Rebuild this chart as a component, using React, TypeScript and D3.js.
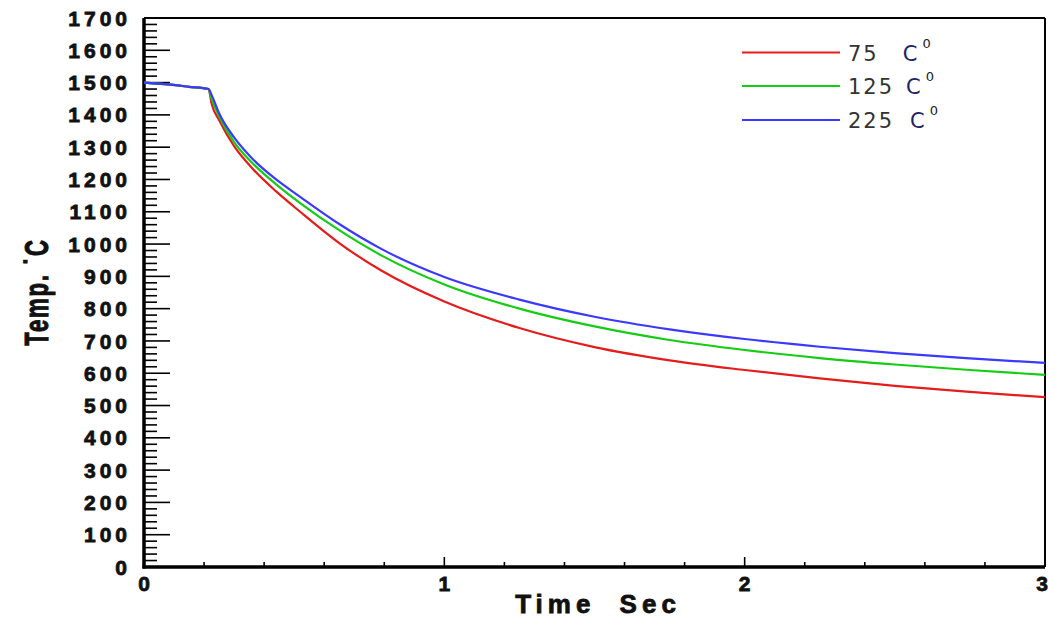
import React, { useEffect, useRef } from "react";
import * as d3 from "d3";

// time (sec), shared by the three series
const times = [0, 0.07, 0.15, 0.215, 0.225, 0.25, 0.3, 0.36, 0.44, 0.52, 0.65, 0.79, 1.0, 1.25, 1.5, 1.75, 2.0, 2.25, 2.5, 2.75, 3.0];
const temp75 = [1500, 1495, 1487, 1480, 1435, 1384, 1303, 1235, 1163, 1100, 1003, 918, 822, 740, 681, 640, 610, 584, 561, 542, 526];
const temp125 = [1500, 1495, 1487, 1480, 1450, 1396, 1316, 1252, 1185, 1127, 1043, 965, 875, 800, 745, 703, 672, 647, 627, 610, 595];
const temp225 = [1500, 1495, 1487, 1480, 1462, 1405, 1330, 1265, 1200, 1146, 1062, 985, 898, 828, 775, 736, 706, 682, 662, 646, 632];

const seriesNames = ["75", "125", "225"];
const seriesColors = ["#e41c1c", "#14cc14", "#3a3aff"];
const yTicks = d3.range(0, 1701, 100);
const xTicks = [0, 1, 2, 3];

export default function App() {
  const ref = useRef<SVGSVGElement>(null);

  useEffect(() => {
    const svg = d3.select(ref.current);
    svg.selectAll("*").remove();

    const x = d3.scaleLinear().domain([0, 3]).range([144, 1045]);
    const y = d3.scaleLinear().domain([0, 1700]).range([567, 18]);

    const g = svg.append("g");
    const heavy = (sel: any, size: number, spacing: number) =>
      sel.style("font-family", "'Liberation Sans', Arial, sans-serif")
        .style("font-weight", "bold").style("font-size", `${size}px`).style("letter-spacing", `${spacing}px`)
        .attr("fill", "#111").attr("stroke", "#111").attr("stroke-width", 0.8);

    // frame
    g.append("line").attr("x1", x(0)).attr("x2", x(3)).attr("y1", y(1700)).attr("y2", y(1700)).attr("stroke", "#000").attr("stroke-width", 2);
    g.append("line").attr("x1", x(3)).attr("x2", x(3)).attr("y1", y(1700)).attr("y2", y(0)).attr("stroke", "#000").attr("stroke-width", 2);

    // y ticks (inside)
    const yMinor = d3.range(0, 1701, 20);
    g.selectAll(".ymin").data(yMinor).enter().append("line")
      .attr("x1", x(0)).attr("x2", d => x(0) + (d % 100 === 0 ? 26 : 13))
      .attr("y1", d => y(d)).attr("y2", d => y(d))
      .attr("stroke", "#000").attr("stroke-width", 1.6);

    // x ticks (inside)
    const xMinor = d3.range(0, 3.001, 0.2);
    g.selectAll(".xmin").data(xMinor).enter().append("line")
      .attr("x1", d => x(d)).attr("x2", d => x(d))
      .attr("y1", y(0)).attr("y2", d => y(0) - (Math.abs(d - Math.round(d)) < 1e-6 ? 10 : 5))
      .attr("stroke", "#000").attr("stroke-width", 1.6);

    // axes lines
    g.append("line").attr("x1", x(0)).attr("x2", x(0)).attr("y1", y(1700)).attr("y2", y(0) + 1.5).attr("stroke", "#000").attr("stroke-width", 3.5);
    g.append("line").attr("x1", x(0) - 1.5).attr("x2", x(3)).attr("y1", y(0)).attr("y2", y(0)).attr("stroke", "#000").attr("stroke-width", 3.5);

    // tick labels
    heavy(g.selectAll(".ylab").data(yTicks).enter().append("text")
      .attr("x", 131).attr("y", d => y(d)).attr("dy", "0.36em")
      .attr("text-anchor", "end"), 21, 4)
      .text((d: number) => String(d));

    heavy(g.selectAll(".xlab").data(xTicks).enter().append("text")
      .attr("x", d => Math.min(x(d), 1042)).attr("y", 591)
      .attr("text-anchor", "middle"), 21, 0)
      .text((d: number) => String(d));

    // axis titles
    heavy(g.append("text")
      .attr("x", 598).attr("y", 613)
      .attr("text-anchor", "middle"), 26, 5)
      .style("word-spacing", "12px")
      .text("Time Sec");

    heavy(g.append("text")
      .attr("transform", "translate(48,292) rotate(-90) scale(0.92,1.35)")
      .attr("text-anchor", "middle"), 24, 2)
      .text("Temp. ˙C");

    // curves
    const series = [temp75, temp125, temp225];
    const lineGen = d3.line<number>()
      .x((_, i) => x(times[i]))
      .y(d => y(d))
      .curve(d3.curveMonotoneX);

    series.forEach((s, i) => {
      g.append("path")
        .attr("d", lineGen(s))
        .attr("fill", "none")
        .attr("stroke", seriesColors[i])
        .attr("stroke-width", 2.2);
    });

    // legend
    const legY = [52.5, 86, 120];
    const cGap = [24, 12, 16];
    seriesNames.forEach((name, i) => {
      g.append("line")
        .attr("x1", 742).attr("x2", 840)
        .attr("y1", legY[i]).attr("y2", legY[i])
        .attr("stroke", seriesColors[i]).attr("stroke-width", 2);
      const t = g.append("text")
        .attr("x", 848).attr("y", legY[i] + 8)
        .style("font-family", "'DejaVu Sans', sans-serif")
        .style("font-size", "21px")
        .attr("fill", "#333");
      t.append("tspan").style("letter-spacing", "2px").text(name);
      t.append("tspan").attr("dx", cGap[i]).attr("fill", "#222266").text("C");
      t.append("tspan").attr("dx", 5).attr("dy", -13).style("font-size", "13px").attr("fill", "#222").text("0");
    });
  }, []);

  return (
    <svg ref={ref} width={1049} height={621} style={{ position: "absolute", left: 0, top: 0, background: "#fff" }} />
  );
}
